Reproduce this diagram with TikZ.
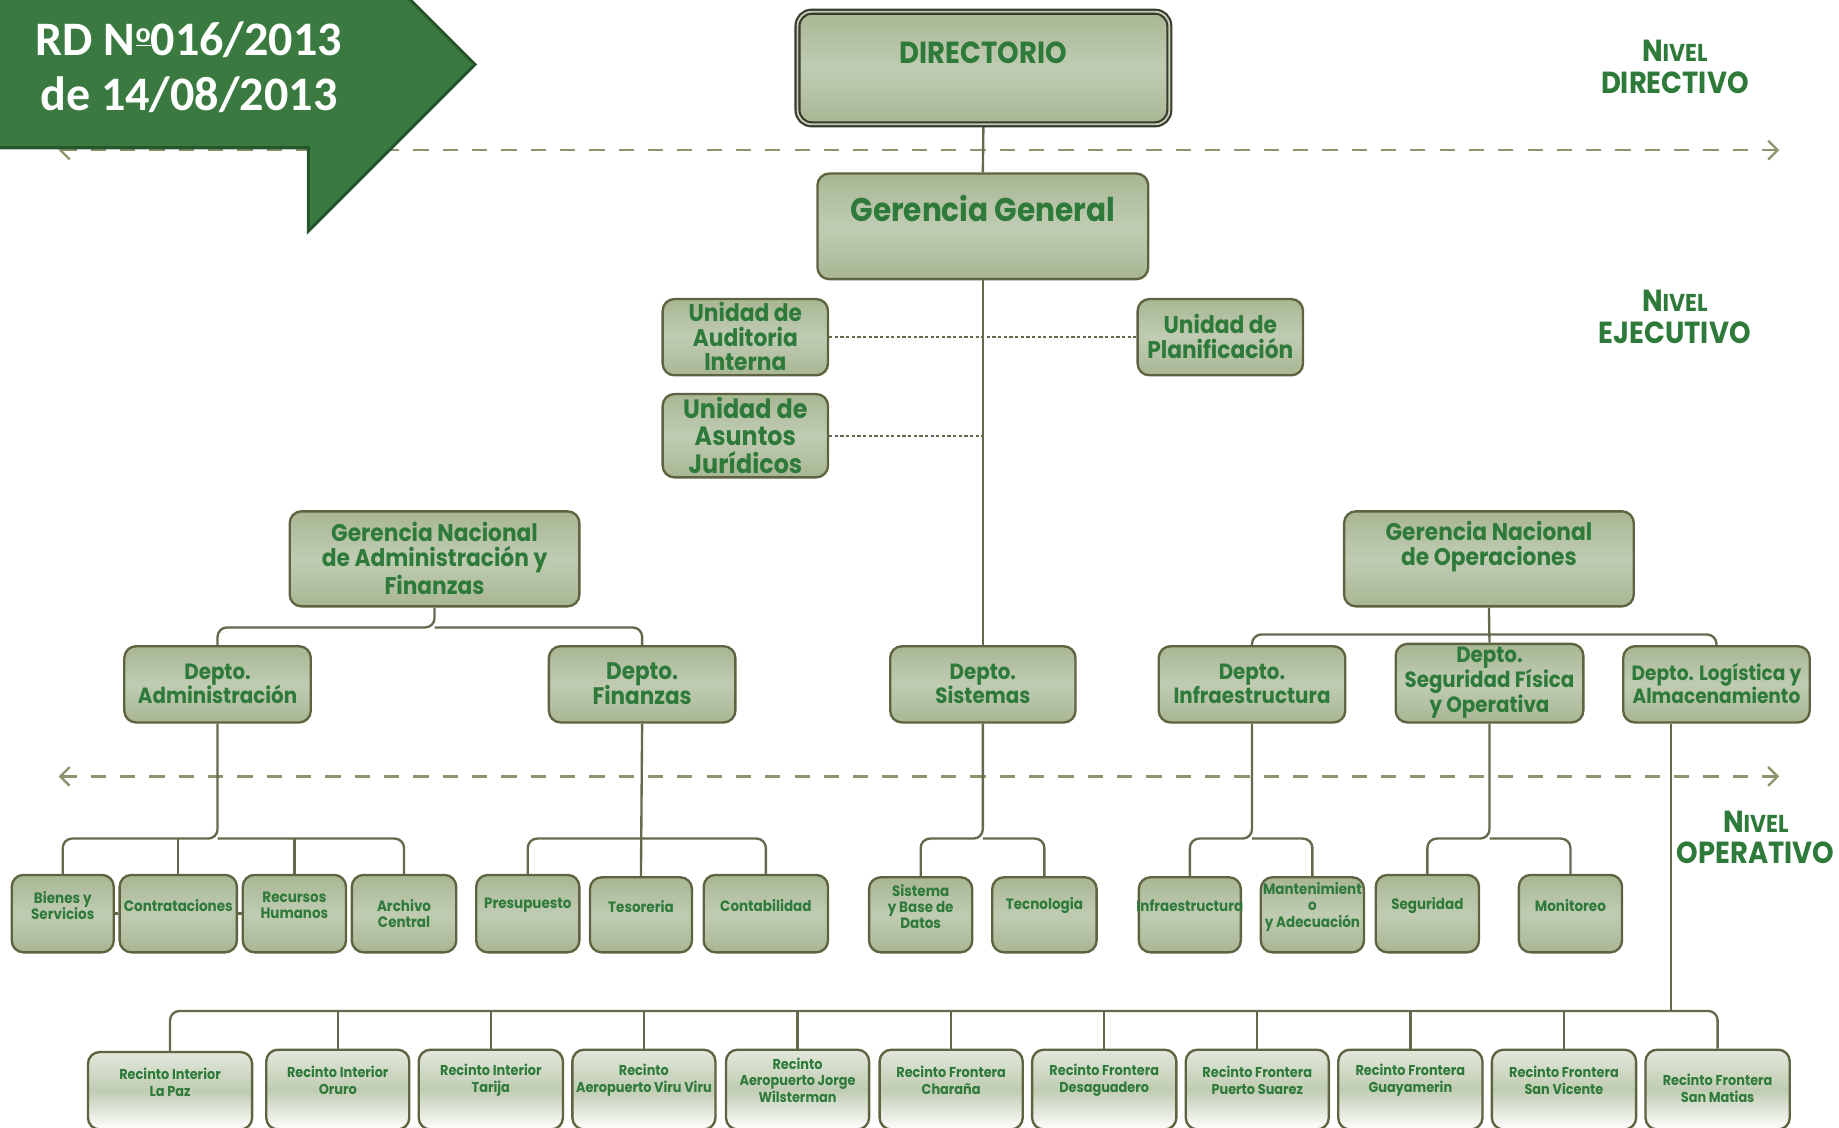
\documentclass[tikz,border=0pt]{standalone}
\usepackage{fontspec}
\setmainfont{Poppins}[FakeStretch=0.9]
\newfontfamily\calib{Carlito}
\usetikzlibrary{arrows.meta}
\pgfdeclarelayer{bg}
\pgfsetlayers{bg,main}
\definecolor{txtg}{RGB}{46,122,58}
\definecolor{bord}{RGB}{94,99,64}
\definecolor{fA}{RGB}{168,182,148}
\definecolor{fB}{RGB}{192,204,178}
\definecolor{rA}{RGB}{226,232,220}
\definecolor{dashc}{RGB}{140,150,110}
\definecolor{connc}{RGB}{100,106,78}
\definecolor{bang}{RGB}{58,122,64}
\definecolor{band}{RGB}{38,87,44}
\definecolor{dirb}{RGB}{55,58,45}
\newcommand\fDir{\fontsize{13}{15}\selectfont\bfseries}
\newcommand\fGG{\fontsize{14}{16}\selectfont\bfseries}
\newcommand\fU{\fontsize{10.3}{10.5}\selectfont\bfseries}
\newcommand\fUb{\fontsize{11.3}{11.75}\selectfont\bfseries}
\newcommand\fGN{\fontsize{10.3}{10.5}\selectfont\bfseries}
\newcommand\fD{\fontsize{9.4}{10.5}\selectfont\bfseries}
\newcommand\fDb{\fontsize{10.2}{11}\selectfont\bfseries}
\newcommand\fDs{\fontsize{8.8}{9.8}\selectfont\bfseries}
\newcommand\fS{\fontsize{6.4}{7}\selectfont\bfseries}
\newcommand\fR{\fontsize{6.1}{7}\selectfont\bfseries}
\newcommand\fNv{\fontsize{13}{13.5}\selectfont\bfseries}
\newcommand\bx[9][box]{%
  \node[#1,minimum width={(#5-#3)*0.5pt},minimum height={(#6-#4)*0.5pt}] (#2) at ({(#3+#5)/2},{(#4+#6)/2}) {};
  \node[lbl,font=#8] (#2-t) at ({(#3+#5)/2},#7) {#9};}
\begin{document}
\begin{tikzpicture}[x=0.5pt,y=-0.5pt,
  box/.style={draw=bord,line width=1pt,rounded corners=5pt,top color=fA,bottom color=fA,middle color=fB,inner sep=0pt},
  dbox/.style={draw=dirb,line width=0.9pt,double=fB,double distance=0.8pt,rounded corners=6pt,top color=fA,bottom color=fA,middle color=fB,inner sep=0pt},
  rbox/.style={draw=bord,line width=1pt,rounded corners=5pt,top color=rA,bottom color=white,middle color=fB,inner sep=0pt},
  lbl/.style={text=txtg,align=center,inner sep=0pt},
  conn/.style={draw=connc,line width=1pt},
  tree/.style={conn,rounded corners=4pt},
  dotl/.style={draw=connc,line width=1pt,dash pattern=on 1.4pt off 1pt},
  dashl/.style={draw=dashc,line width=1pt,dash pattern=on 6.5pt off 6pt,{Straight Barb[length=4pt,width=8pt]}-{Straight Barb[length=4pt,width=8pt]}},
  niv/.style={text=txtg,align=center,inner sep=0pt,font=\fNv}]
\useasboundingbox (0,0) rectangle (1568,961);
% level separators
\coordinate (dl1) at (50,128); \coordinate (dr1) at (1517,128);
\coordinate (dl2) at (50,662); \coordinate (dr2) at (1517,662);
\begin{pgfonlayer}{bg}
\draw[dashl] (dl1) -- (dr1);
\draw[dashl] (dl2) -- (dr2);
\end{pgfonlayer}
% banner
\filldraw[fill=bang,draw=band,line width=1.3pt] (-5,-5) -- (345,-5) -- (405,55) -- (263,197) -- (263,126) -- (-5,126) -- cycle;
\node[font=\calib\fontsize{20.5}{23.5}\selectfont\bfseries,text=white,align=center,inner sep=0pt] (ban) at (161,57) {RD N\raisebox{0.55ex}{\fontsize{12}{12}\selectfont\underline{o}}016/2013\\de 14/08/2013};
% level labels
\node[niv] (nv1) at (1428,57) {N{\fontsize{10.4}{13.5}\selectfont IVEL}\\DIRECTIVO};
\node[niv] (nv2) at (1428,270) {N{\fontsize{10.4}{13.5}\selectfont IVEL}\\EJECUTIVO};
\node[niv] (nv3) at (1497,714) {N{\fontsize{10.4}{13.5}\selectfont IVEL}\\OPERATIVO};
% upper levels
\bx[dbox]{dir}{680}{10}{997}{106}{45}{\fDir}{DIRECTORIO}
\bx{gg}{697}{148}{979}{238}{178}{\fGG}{Gerencia General}
\bx{uai}{565}{255}{706}{320}{287}{\fU}{Unidad de\\Auditoria\\Interna}
\bx{upl}{970}{255}{1111}{320}{287}{\fU}{Unidad de\\Planificación}
\bx{uaj}{565}{336}{706}{407}{371}{\fUb}{Unidad de\\Asuntos\\Jurídicos}
\bx{gnaf}{247}{436}{494}{517}{476}{\fGN}{Gerencia Nacional\\de Administración y\\Finanzas}
\bx{gno}{1146}{436}{1393}{517}{466}{\fGN}{Gerencia Nacional\\de Operaciones}
% departments
\bx{dadm}{106}{551}{265}{616}{583}{\fD}{Depto.\\Administración}
\bx{dfin}{468}{551}{627}{616}{583}{\fDb}{Depto.\\Finanzas}
\bx{dsis}{759}{551}{917}{616}{583}{\fD}{Depto.\\Sistemas}
\bx{dinf}{988}{551}{1147}{616}{583}{\fD}{Depto.\\Infraestructura}
\bx{dseg}{1190}{549}{1350}{616}{582}{\fD}{Depto.\\Seguridad Física\\y Operativa}
\bx{dlog}{1384}{551}{1543}{616}{583}{\fDs}{Depto. Logística y\\Almacenamiento}
% operative units
\bx{bien}{10}{746}{97}{812}{772}{\fS}{Bienes y\\Servicios}
\bx{contr}{102}{746}{202}{812}{772}{\fS}{Contrataciones}
\bx{rrhh}{207}{746}{295}{812}{772}{\fS}{Recursos\\Humanos}
\bx{arch}{300}{746}{389}{812}{779}{\fS}{Archivo\\Central}
\bx{pres}{406}{746}{494}{812}{772}{\fS}{Presupuesto}
\bx{tes}{503}{748}{590}{812}{773}{\fS}{Tesoreria}
\bx{cont}{600}{746}{706}{812}{772}{\fS}{Contabilidad}
\bx{sbd}{741}{748}{829}{812}{773}{\fS}{Sistema\\y Base de\\Datos}
\bx{tec}{846}{748}{935}{812}{772}{\fS}{Tecnologia}
\bx{inf}{971}{748}{1058}{812}{772}{\fS}{Infraestructura}
\bx{mant}{1075}{748}{1163}{812}{773}{\fS}{Mantenimient\\o\\y Adecuación}
\bx{seg}{1173}{746}{1261}{812}{772}{\fS}{Seguridad}
\bx{mon}{1295}{746}{1383}{812}{772}{\fS}{Monitoreo}
% recintos
\bx[rbox]{r1}{75}{897}{215}{963}{923}{\fR}{Recinto Interior\\La Paz}
\bx[rbox]{r2}{227}{895}{349}{963}{921}{\fR}{Recinto Interior\\Oruro}
\bx[rbox]{r3}{357}{895}{480}{963}{921}{\fR}{Recinto Interior\\Tarija}
\bx[rbox]{r4}{488}{895}{610}{963}{921}{\fR}{Recinto\\Aeropuerto Viru Viru}
\bx[rbox]{r5}{619}{895}{741}{963}{921}{\fR}{Recinto\\Aeropuerto Jorge\\Wilsterman}
\bx[rbox]{r6}{750}{895}{872}{963}{921}{\fR}{Recinto Frontera\\Charaña}
\bx[rbox]{r7}{880}{895}{1003}{963}{921}{\fR}{Recinto Frontera\\Desaguadero}
\bx[rbox]{r8}{1011}{895}{1133}{963}{921}{\fR}{Recinto Frontera\\Puerto Suarez}
\bx[rbox]{r9}{1141}{895}{1264}{963}{921}{\fR}{Recinto Frontera\\Guayamerin}
\bx[rbox]{r10}{1272}{895}{1395}{963}{921}{\fR}{Recinto Frontera\\San Vicente}
\bx[rbox]{r11}{1403}{895}{1526}{963}{928}{\fR}{Recinto Frontera\\San Matias}
% connectors
\coordinate (yB) at (0,535);
\coordinate (yC) at (0,541);
\coordinate (yA) at (0,715);
\coordinate (yR) at (0,862);
\coordinate (lstem) at ([xshift=-19.5pt]dlog.south);
\begin{pgfonlayer}{bg}
\draw[conn] (dir.south) -- (gg.north);
\draw[conn] (gg.south) -- (dsis.north);
\draw[dotl] (uai.east) -- (upl.west);
\draw[dotl] (uaj.east) -- (uaj.east -| dsis.north);
% GNAF
\draw[tree] (gnaf.south) |- (dadm.north |- yB) -- (dadm.north);
\draw[tree] (gnaf.south |- yB) -| (dfin.north);
% GNO
\draw[tree] (gno.south) -- (dseg.north);
\draw[tree] (dinf.north) |- (dlog.north |- yC) -- (dlog.north);
% Adm
\draw[tree] (dadm.south) |- (bien.north |- yA) -- (bien.north);
\draw[tree] (dadm.south |- yA) -| (arch.north);
\draw[conn] (contr.north) -- (contr.north |- yA);
\draw[conn] (rrhh.north) -- (rrhh.north |- yA);
\draw[conn] (bien.east) -- (contr.west);
\draw[conn] (contr.east) -- (rrhh.west);
% Finanzas
\draw[conn] (dfin.south) -- (tes.north);
\draw[tree] (pres.north) |- (cont.north |- yA) -- (cont.north);
% Sistemas
\draw[tree] (dsis.south) |- (sbd.north |- yA) -- (sbd.north);
\draw[tree] (dsis.south |- yA) -| (tec.north);
% Infra
\draw[tree] (dinf.south) |- (inf.north |- yA) -- (inf.north);
\draw[tree] (dinf.south |- yA) -| (mant.north);
% Seguridad
\draw[tree] (dseg.south) |- (seg.north |- yA) -- (seg.north);
\draw[tree] (dseg.south |- yA) -| (mon.north);
% Logistica -> recintos
\draw[conn] (lstem) -- (lstem |- yR);
\draw[tree] (r1.north) |- (r11.north |- yR) -- (r11.north);
\foreach \r in {r2,r3,r4,r5,r6,r7,r8,r9,r10} \draw[conn] (\r.north) -- (\r.north |- yR);
\end{pgfonlayer}
\end{tikzpicture}
\end{document}
